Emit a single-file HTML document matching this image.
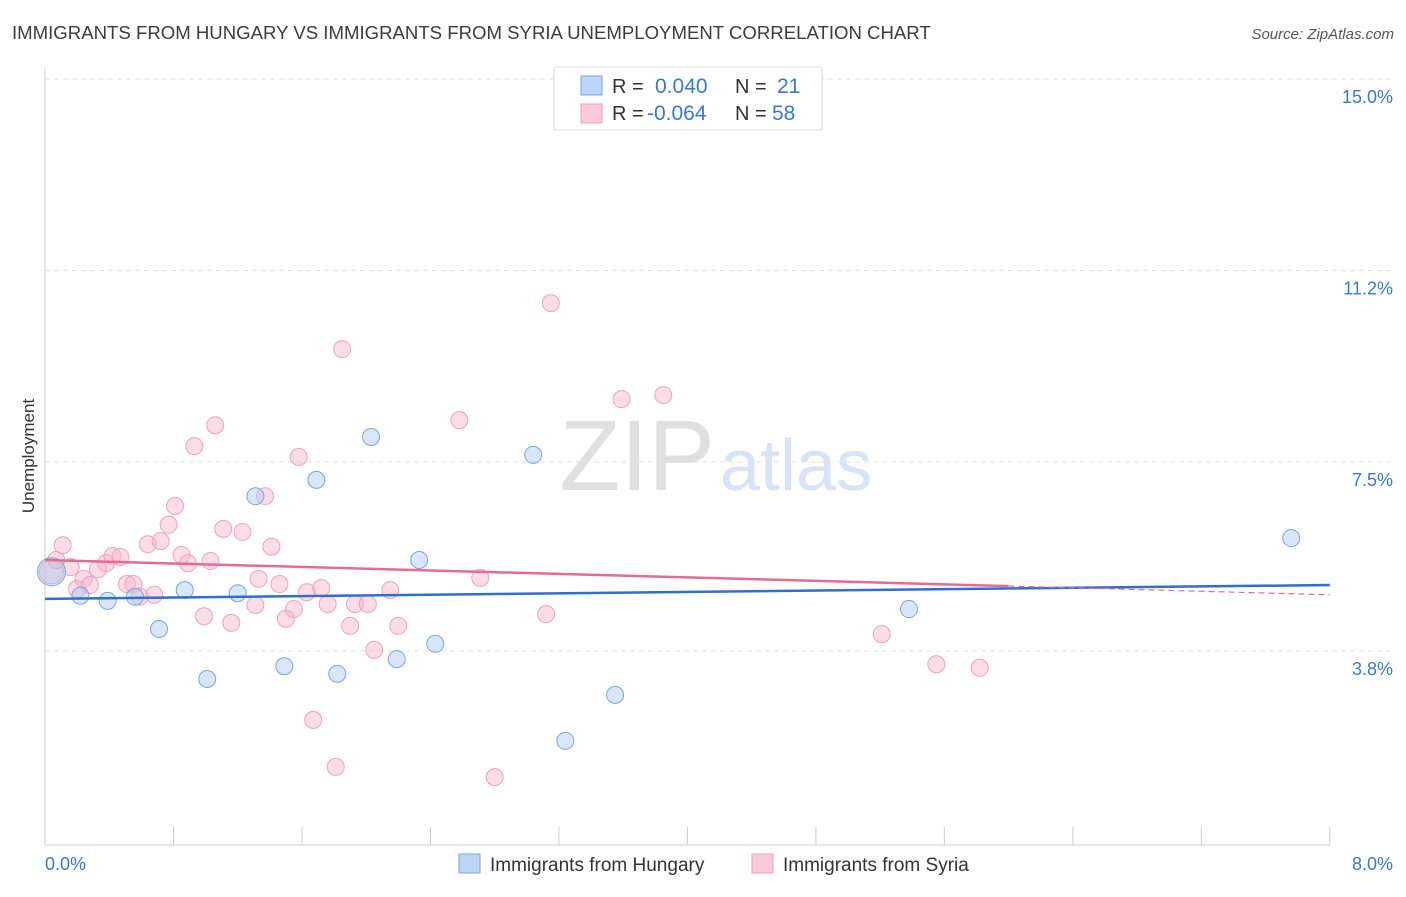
<!DOCTYPE html>
<html><head><meta charset="utf-8"><style>
body{margin:0;background:#fff;font-family:"Liberation Sans",sans-serif;}
svg text{font-family:"Liberation Sans",sans-serif;}
</style></head><body>
<svg id="c" width="1406" height="892" xmlns="http://www.w3.org/2000/svg">
<text x="12" y="39" font-size="18.6" fill="#3c3c3c">IMMIGRANTS FROM HUNGARY VS IMMIGRANTS FROM SYRIA UNEMPLOYMENT CORRELATION CHART</text>
<text x="1394" y="39" font-size="15" fill="#555" font-style="italic" text-anchor="end">Source: ZipAtlas.com</text>
<text x="34" y="456" font-size="17" fill="#333" text-anchor="middle" transform="rotate(-90 34 456)">Unemployment</text>
<g><text x="715" y="490" font-size="100" font-family="Liberation Serif" fill="#e0e0e0" text-anchor="end">ZIP</text><text x="720" y="490" font-size="72" fill="#d6e4f5" >atlas</text></g>
<g id="grid"></g><g id="marks"></g>
<g>
<rect x="554" y="67" width="268" height="63" fill="#fff" stroke="#ddd"/>
<rect x="581" y="76" width="21" height="19" fill="#bcd4f5" stroke="#7aa6e0"/>
<rect x="581" y="104" width="21" height="19" fill="#fcc9d8" stroke="#eca0b8"/>
<text x="612" y="93" font-size="20" fill="#333">R =</text><text x="655" y="93" font-size="21" fill="#3a78d0">0.040</text>
<text x="735" y="93" font-size="20" fill="#333">N =</text><text x="777" y="93" font-size="21" fill="#3a78d0">21</text>
<text x="612" y="120" font-size="20" fill="#333">R =</text><text x="647" y="120" font-size="21" fill="#3a78d0">-0.064</text>
<text x="735" y="120" font-size="20" fill="#333">N =</text><text x="772" y="120" font-size="21" fill="#3a78d0">58</text>
</g>
<g>
<rect x="459" y="854" width="21" height="19" fill="#bcd4f5" stroke="#7aa6e0"/>
<text x="490" y="871" font-size="19" fill="#333">Immigrants from Hungary</text>
<rect x="752" y="854" width="21" height="19" fill="#fcc9d8" stroke="#eca0b8"/>
<text x="783" y="871" font-size="19" fill="#333">Immigrants from Syria</text>
</g>
</svg>
<script>
const hunX=[0.04,0.22,0.39,0.56,0.71,0.87,1.01,1.20,1.31,1.49,1.69,1.82,2.03,2.19,2.33,2.43,3.04,3.24,3.55,5.38,7.76];
const hunY=[5.35,4.88,4.78,4.86,4.23,4.99,3.25,4.93,6.83,3.50,7.15,3.35,7.99,3.64,5.58,3.94,7.64,2.04,2.94,4.62,6.01];
const syrX=[0.04,0.07,0.11,0.16,0.20,0.24,0.28,0.33,0.38,0.42,0.47,0.51,0.55,0.59,0.64,0.68,0.72,0.77,0.81,0.85,0.89,0.93,0.99,1.03,1.06,1.11,1.16,1.23,1.31,1.33,1.37,1.41,1.46,1.50,1.55,1.58,1.63,1.67,1.72,1.76,1.81,1.85,1.90,1.93,2.01,2.05,2.15,2.20,2.58,2.71,2.80,3.12,3.15,3.59,3.85,5.21,5.55,5.82];
const syrY=[5.35,5.58,5.87,5.44,5.01,5.21,5.09,5.40,5.52,5.66,5.64,5.11,5.11,4.86,5.89,4.90,5.95,6.27,6.64,5.68,5.52,7.81,4.48,5.56,8.22,6.19,4.35,6.13,4.70,5.21,6.83,5.84,5.11,4.43,4.62,7.60,4.95,2.45,5.03,4.72,1.53,9.71,4.29,4.72,4.72,3.82,4.99,4.29,8.32,5.23,1.33,4.52,10.61,8.73,8.81,4.13,3.54,3.47];
const yTicks=[3.8,7.5,11.25,15.0];
const yTickLabels=["3.8%","7.5%","11.2%","15.0%"];
const xTicks=[0,0.8,1.6,2.4,3.2,4.0,4.8,5.6,6.4,7.2,8.0];
const hunTrend=[4.82,5.09];
const syrTrend=[5.58,5.07,4.90];
const NS="http://www.w3.org/2000/svg";
const X=v=>45+v*160.6, Y=v=>845-v*51.07;
function mk(t,a,p){const e=document.createElementNS(NS,t);for(const k in a)e.setAttribute(k,a[k]);p.appendChild(e);return e;}
const g=document.getElementById('grid'), m=document.getElementById('marks');
const ax=mk('line',{x1:45,y1:68,x2:45,y2:845,stroke:'#ccc'},g);


const bx=mk('line',{x1:45,y1:845,x2:1330,y2:845,stroke:'#ccc'},g);


yTicks.forEach((t,i)=>{
 const l=mk('line',{x1:45,y1:Y(t),x2:1395,y2:Y(t),stroke:'#e2e2e2','stroke-dasharray':'5,4'},g);
 
 
 const tx=mk('text',{x:1393,y:Y(t)+24,'font-size':18,fill:'#3a78d0','text-anchor':'end'},g);
 tx.textContent=yTickLabels[i];
 
 
});
xTicks.forEach(t=>{
 const l=mk('line',{x1:X(t),y1:827,x2:X(t),y2:845,stroke:'#ccc'},g);
 
 
});
const x0=mk('text',{x:45,y:870,'font-size':18,fill:'#3a78d0'},g);x0.textContent='0.0%';


const x8=mk('text',{x:1393,y:870,'font-size':18,fill:'#3a78d0','text-anchor':'end'},g);x8.textContent='8.0%';


syrX.forEach((v,i)=>{
 const c=mk('circle',{cx:X(v),cy:Y(syrY[i]),r:i==0?12:8.5,fill:'rgba(248,180,202,0.45)',stroke:'#eea3bb','stroke-width':1},m);
 
 
});
hunX.forEach((v,i)=>{
 const c=mk('circle',{cx:X(v),cy:Y(hunY[i]),r:i==0?14:8.5,fill:'rgba(170,200,240,0.45)',stroke:'#7aa6e0','stroke-width':1},m);
 
 
});
const ht=mk('line',{x1:X(0),y1:Y(hunTrend[0]),x2:X(8),y2:Y(hunTrend[1]),stroke:'#2e6fd0','stroke-width':2.5},m);


const st=mk('line',{x1:X(0),y1:Y(syrTrend[0]),x2:X(6),y2:Y(syrTrend[1]),stroke:'#e86a94','stroke-width':2.5},m);


const sd=mk('line',{x1:X(6),y1:Y(syrTrend[1]),x2:X(8),y2:Y(syrTrend[2]),stroke:'#e86a94','stroke-width':1.2,'stroke-dasharray':'6,4'},m);


</script>
</body></html>
